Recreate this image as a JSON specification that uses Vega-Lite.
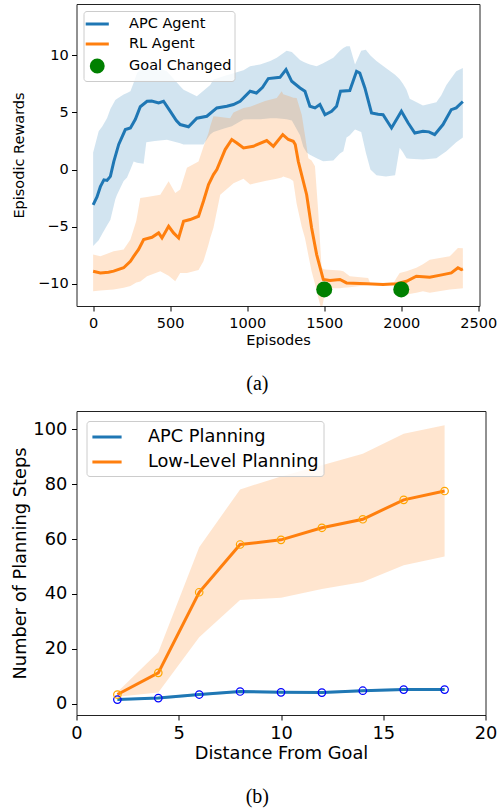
{
  "$schema": "https://vega.github.io/schema/vega-lite/v6.json",
  "padding": {"left": 10.5, "top": 3, "right": 0, "bottom": 0},
  "resolve": {"scale": {"color": "independent"}, "legend": {"color": "independent"}},
  "columns": 1,
  "align": "none",
  "spacing": 16,
  "config": {
    "view": {"stroke": "#222222", "strokeWidth": 1},
    "font": "DejaVu Sans",
    "axis": {
      "grid": false, "domain": false, "tickSize": 5, "tickWidth": 1, "tickColor": "black",
      "labelColor": "black", "titleColor": "black", "labelFont": "DejaVu Sans", "titleFont": "DejaVu Sans",
      "titleFontWeight": "normal", "labelOverlap": false, "labelFlush": false
    }
  },
  "datasets": {
    "linesA": [
      {"series": "APC Agent", "ep": 0, "y": -3.1}, {"series": "APC Agent", "ep": 25, "y": -2.4}, {"series": "APC Agent", "ep": 47, "y": -1.5},
      {"series": "APC Agent", "ep": 70, "y": -0.9}, {"series": "APC Agent", "ep": 90, "y": -0.95}, {"series": "APC Agent", "ep": 112, "y": -0.6},
      {"series": "APC Agent", "ep": 134, "y": 0.7}, {"series": "APC Agent", "ep": 166, "y": 2.2}, {"series": "APC Agent", "ep": 209, "y": 3.5},
      {"series": "APC Agent", "ep": 242, "y": 3.64}, {"series": "APC Agent", "ep": 274, "y": 4.4}, {"series": "APC Agent", "ep": 306, "y": 5.5},
      {"series": "APC Agent", "ep": 350, "y": 5.98}, {"series": "APC Agent", "ep": 380, "y": 6.0}, {"series": "APC Agent", "ep": 425, "y": 5.83},
      {"series": "APC Agent", "ep": 457, "y": 5.98}, {"series": "APC Agent", "ep": 501, "y": 5.1}, {"series": "APC Agent", "ep": 540, "y": 4.3},
      {"series": "APC Agent", "ep": 565, "y": 3.94}, {"series": "APC Agent", "ep": 619, "y": 3.75}, {"series": "APC Agent", "ep": 673, "y": 4.5},
      {"series": "APC Agent", "ep": 738, "y": 4.67}, {"series": "APC Agent", "ep": 803, "y": 5.4}, {"series": "APC Agent", "ep": 868, "y": 5.54},
      {"series": "APC Agent", "ep": 911, "y": 5.7}, {"series": "APC Agent", "ep": 954, "y": 5.98}, {"series": "APC Agent", "ep": 1019, "y": 6.86},
      {"series": "APC Agent", "ep": 1060, "y": 6.7}, {"series": "APC Agent", "ep": 1100, "y": 7.2}, {"series": "APC Agent", "ep": 1137, "y": 7.97},
      {"series": "APC Agent", "ep": 1213, "y": 8.08}, {"series": "APC Agent", "ep": 1252, "y": 8.76}, {"series": "APC Agent", "ep": 1289, "y": 7.73},
      {"series": "APC Agent", "ep": 1343, "y": 7.15}, {"series": "APC Agent", "ep": 1375, "y": 6.86}, {"series": "APC Agent", "ep": 1407, "y": 5.54},
      {"series": "APC Agent", "ep": 1440, "y": 5.4}, {"series": "APC Agent", "ep": 1472, "y": 5.7}, {"series": "APC Agent", "ep": 1505, "y": 4.8},
      {"series": "APC Agent", "ep": 1548, "y": 5.1}, {"series": "APC Agent", "ep": 1580, "y": 5.54}, {"series": "APC Agent", "ep": 1606, "y": 6.86},
      {"series": "APC Agent", "ep": 1666, "y": 6.92}, {"series": "APC Agent", "ep": 1710, "y": 8.6}, {"series": "APC Agent", "ep": 1731, "y": 8.46},
      {"series": "APC Agent", "ep": 1764, "y": 7.15}, {"series": "APC Agent", "ep": 1807, "y": 4.96}, {"series": "APC Agent", "ep": 1850, "y": 4.85},
      {"series": "APC Agent", "ep": 1882, "y": 4.8}, {"series": "APC Agent", "ep": 1937, "y": 3.64}, {"series": "APC Agent", "ep": 2001, "y": 5.1},
      {"series": "APC Agent", "ep": 2044, "y": 4.1}, {"series": "APC Agent", "ep": 2088, "y": 3.2}, {"series": "APC Agent", "ep": 2141, "y": 3.35},
      {"series": "APC Agent", "ep": 2180, "y": 3.3}, {"series": "APC Agent", "ep": 2217, "y": 3.06}, {"series": "APC Agent", "ep": 2271, "y": 3.94},
      {"series": "APC Agent", "ep": 2325, "y": 5.25}, {"series": "APC Agent", "ep": 2357, "y": 5.4}, {"series": "APC Agent", "ep": 2390, "y": 5.83},
      {"series": "APC Agent", "ep": 2400, "y": 5.95},
      {"series": "RL Agent", "ep": 0, "y": -8.9}, {"series": "RL Agent", "ep": 47, "y": -9.05}, {"series": "RL Agent", "ep": 100, "y": -9.0},
      {"series": "RL Agent", "ep": 133, "y": -8.9}, {"series": "RL Agent", "ep": 198, "y": -8.6}, {"series": "RL Agent", "ep": 242, "y": -8.03},
      {"series": "RL Agent", "ep": 263, "y": -7.6}, {"series": "RL Agent", "ep": 295, "y": -7.0}, {"series": "RL Agent", "ep": 328, "y": -6.13},
      {"series": "RL Agent", "ep": 382, "y": -5.93}, {"series": "RL Agent", "ep": 425, "y": -5.55}, {"series": "RL Agent", "ep": 447, "y": -5.99},
      {"series": "RL Agent", "ep": 490, "y": -4.97}, {"series": "RL Agent", "ep": 522, "y": -5.55}, {"series": "RL Agent", "ep": 555, "y": -5.99},
      {"series": "RL Agent", "ep": 587, "y": -4.53}, {"series": "RL Agent", "ep": 630, "y": -4.38}, {"series": "RL Agent", "ep": 684, "y": -4.09},
      {"series": "RL Agent", "ep": 716, "y": -2.78}, {"series": "RL Agent", "ep": 749, "y": -1.31}, {"series": "RL Agent", "ep": 781, "y": -0.44},
      {"series": "RL Agent", "ep": 803, "y": 0.0}, {"series": "RL Agent", "ep": 857, "y": 1.75}, {"series": "RL Agent", "ep": 900, "y": 2.63},
      {"series": "RL Agent", "ep": 933, "y": 2.33}, {"series": "RL Agent", "ep": 976, "y": 1.9}, {"series": "RL Agent", "ep": 1040, "y": 2.04},
      {"series": "RL Agent", "ep": 1127, "y": 2.54}, {"series": "RL Agent", "ep": 1170, "y": 2.04}, {"series": "RL Agent", "ep": 1231, "y": 3.06},
      {"series": "RL Agent", "ep": 1267, "y": 2.63}, {"series": "RL Agent", "ep": 1299, "y": 2.48}, {"series": "RL Agent", "ep": 1312, "y": 2.2},
      {"series": "RL Agent", "ep": 1332, "y": 0.7}, {"series": "RL Agent", "ep": 1386, "y": -2.2}, {"series": "RL Agent", "ep": 1418, "y": -5.1},
      {"series": "RL Agent", "ep": 1451, "y": -7.45}, {"series": "RL Agent", "ep": 1494, "y": -9.63}, {"series": "RL Agent", "ep": 1537, "y": -9.72},
      {"series": "RL Agent", "ep": 1602, "y": -9.63}, {"series": "RL Agent", "ep": 1645, "y": -9.93}, {"series": "RL Agent", "ep": 1775, "y": -10.0},
      {"series": "RL Agent", "ep": 1882, "y": -10.07}, {"series": "RL Agent", "ep": 1969, "y": -10.0}, {"series": "RL Agent", "ep": 2034, "y": -9.78},
      {"series": "RL Agent", "ep": 2098, "y": -9.34}, {"series": "RL Agent", "ep": 2185, "y": -9.43}, {"series": "RL Agent", "ep": 2271, "y": -9.2},
      {"series": "RL Agent", "ep": 2325, "y": -9.05}, {"series": "RL Agent", "ep": 2368, "y": -8.6}, {"series": "RL Agent", "ep": 2390, "y": -8.76},
      {"series": "RL Agent", "ep": 2400, "y": -8.7}
    ],
    "bandAPC": [
      {"ep": 0, "lo": -6.7, "hi": 1.5}, {"ep": 36, "lo": -6.2, "hi": 3.35}, {"ep": 60, "lo": -5.6, "hi": 3.8}, {"ep": 90, "lo": -4.9, "hi": 4.5},
      {"ep": 112, "lo": -4.4, "hi": 5.3}, {"ep": 144, "lo": -2.6, "hi": 6.1}, {"ep": 155, "lo": -2.2, "hi": 6.2}, {"ep": 198, "lo": -1.0, "hi": 6.57},
      {"ep": 220, "lo": -0.7, "hi": 6.7}, {"ep": 242, "lo": 0.0, "hi": 6.86}, {"ep": 263, "lo": 0.7, "hi": 7.6}, {"ep": 285, "lo": 0.6, "hi": 8.46},
      {"ep": 328, "lo": 0.5, "hi": 9.05}, {"ep": 345, "lo": 2.4, "hi": 9.1}, {"ep": 400, "lo": 2.5, "hi": 9.0}, {"ep": 479, "lo": 2.6, "hi": 8.6},
      {"ep": 565, "lo": 2.3, "hi": 7.3}, {"ep": 587, "lo": 2.2, "hi": 7.0}, {"ep": 673, "lo": 2.2, "hi": 6.42}, {"ep": 716, "lo": 2.2, "hi": 6.9},
      {"ep": 760, "lo": 3.06, "hi": 7.4}, {"ep": 781, "lo": 3.3, "hi": 7.88}, {"ep": 850, "lo": 3.6, "hi": 8.2}, {"ep": 900, "lo": 3.8, "hi": 8.4},
      {"ep": 976, "lo": 4.38, "hi": 8.7}, {"ep": 1019, "lo": 4.4, "hi": 9.05}, {"ep": 1084, "lo": 4.4, "hi": 9.2}, {"ep": 1150, "lo": 4.5, "hi": 9.5},
      {"ep": 1192, "lo": 4.5, "hi": 9.8}, {"ep": 1256, "lo": 4.4, "hi": 10.4}, {"ep": 1290, "lo": 4.3, "hi": 10.3}, {"ep": 1343, "lo": 3.0, "hi": 9.6},
      {"ep": 1364, "lo": 2.0, "hi": 9.45}, {"ep": 1386, "lo": 1.5, "hi": 9.3}, {"ep": 1407, "lo": 1.3, "hi": 9.2}, {"ep": 1451, "lo": 1.0, "hi": 9.05},
      {"ep": 1493, "lo": 0.73, "hi": 9.3}, {"ep": 1559, "lo": 0.8, "hi": 9.8}, {"ep": 1602, "lo": 1.4, "hi": 10.4}, {"ep": 1624, "lo": 1.6, "hi": 10.65},
      {"ep": 1645, "lo": 2.8, "hi": 10.8}, {"ep": 1666, "lo": 3.0, "hi": 10.8}, {"ep": 1700, "lo": 3.5, "hi": 9.2}, {"ep": 1740, "lo": 3.3, "hi": 10.4},
      {"ep": 1770, "lo": 1.5, "hi": 10.5}, {"ep": 1800, "lo": 0.0, "hi": 10.0}, {"ep": 1839, "lo": -0.5, "hi": 9.5}, {"ep": 1900, "lo": -0.6, "hi": 8.9},
      {"ep": 1960, "lo": -0.5, "hi": 8.3}, {"ep": 1990, "lo": 1.9, "hi": 7.9}, {"ep": 2012, "lo": 1.5, "hi": 7.5}, {"ep": 2034, "lo": 1.0, "hi": 7.0},
      {"ep": 2055, "lo": 0.95, "hi": 6.2}, {"ep": 2141, "lo": 0.88, "hi": 5.6}, {"ep": 2228, "lo": 1.0, "hi": 5.9}, {"ep": 2260, "lo": 1.3, "hi": 6.5},
      {"ep": 2293, "lo": 1.6, "hi": 7.4}, {"ep": 2357, "lo": 2.4, "hi": 8.6}, {"ep": 2400, "lo": 2.8, "hi": 8.9}
    ],
    "bandRL": [
      {"ep": 0, "lo": -10.65, "hi": -7.45}, {"ep": 47, "lo": -10.6, "hi": -7.6}, {"ep": 133, "lo": -10.5, "hi": -7.15}, {"ep": 198, "lo": -10.35, "hi": -7.0},
      {"ep": 242, "lo": -10.2, "hi": -6.13}, {"ep": 280, "lo": -9.9, "hi": -4.5}, {"ep": 306, "lo": -9.8, "hi": -2.5}, {"ep": 350, "lo": -9.34, "hi": -2.4},
      {"ep": 436, "lo": -8.9, "hi": -2.2}, {"ep": 490, "lo": -9.3, "hi": -1.02}, {"ep": 533, "lo": -9.78, "hi": -2.05}, {"ep": 565, "lo": -9.05, "hi": -1.75},
      {"ep": 609, "lo": -9.05, "hi": 0.15}, {"ep": 684, "lo": -8.8, "hi": 0.7}, {"ep": 716, "lo": -8.03, "hi": 2.0}, {"ep": 749, "lo": -6.57, "hi": 3.2},
      {"ep": 760, "lo": -6.0, "hi": 3.8}, {"ep": 781, "lo": -5.1, "hi": 4.67}, {"ep": 825, "lo": -2.2, "hi": 4.6}, {"ep": 889, "lo": -1.46, "hi": 4.5},
      {"ep": 911, "lo": -1.2, "hi": 5.0}, {"ep": 976, "lo": -0.8, "hi": 5.4}, {"ep": 1019, "lo": -1.3, "hi": 5.5}, {"ep": 1116, "lo": -1.0, "hi": 6.0},
      {"ep": 1192, "lo": -0.8, "hi": 6.27}, {"ep": 1224, "lo": -0.7, "hi": 6.86}, {"ep": 1234, "lo": -0.6, "hi": 6.6}, {"ep": 1278, "lo": -0.8, "hi": 6.4},
      {"ep": 1299, "lo": -1.0, "hi": 6.3}, {"ep": 1321, "lo": -3.0, "hi": 6.27}, {"ep": 1354, "lo": -5.0, "hi": 4.8}, {"ep": 1375, "lo": -6.0, "hi": 3.0},
      {"ep": 1397, "lo": -7.5, "hi": 1.0}, {"ep": 1418, "lo": -8.9, "hi": 0.8}, {"ep": 1440, "lo": -10.0, "hi": 0.3}, {"ep": 1461, "lo": -11.2, "hi": -3.65},
      {"ep": 1483, "lo": -12.3, "hi": -8.6}, {"ep": 1495, "lo": -11.5, "hi": -8.7}, {"ep": 1505, "lo": -10.4, "hi": -8.76}, {"ep": 1602, "lo": -10.4, "hi": -8.85},
      {"ep": 1624, "lo": -10.35, "hi": -8.9}, {"ep": 1666, "lo": -10.3, "hi": -9.34}, {"ep": 1785, "lo": -10.1, "hi": -9.5}, {"ep": 1800, "lo": -10.05, "hi": -10.0},
      {"ep": 1947, "lo": -10.05, "hi": -10.0}, {"ep": 1969, "lo": -10.5, "hi": -9.5}, {"ep": 1990, "lo": -10.7, "hi": -9.05}, {"ep": 2034, "lo": -10.95, "hi": -8.9},
      {"ep": 2098, "lo": -10.8, "hi": -8.6}, {"ep": 2141, "lo": -10.65, "hi": -8.3}, {"ep": 2185, "lo": -10.8, "hi": -7.9}, {"ep": 2315, "lo": -10.5, "hi": -7.6},
      {"ep": 2368, "lo": -10.45, "hi": -6.86}, {"ep": 2400, "lo": -10.4, "hi": -6.9}
    ],
    "goals": [{"ep": 1500, "y": -10.5}, {"ep": 2000, "y": -10.5}],
    "plan": [
      {"series": "APC Planning", "dist": 2, "mean": 1.46, "lo": 1.0, "hi": 1.9},
      {"series": "APC Planning", "dist": 4, "mean": 2.0, "lo": 1.5, "hi": 2.5},
      {"series": "APC Planning", "dist": 6, "mean": 3.3, "lo": 2.8, "hi": 3.8},
      {"series": "APC Planning", "dist": 8, "mean": 4.4, "lo": 3.9, "hi": 4.9},
      {"series": "APC Planning", "dist": 10, "mean": 4.1, "lo": 3.6, "hi": 4.6},
      {"series": "APC Planning", "dist": 12, "mean": 4.0, "lo": 3.5, "hi": 4.5},
      {"series": "APC Planning", "dist": 14, "mean": 4.7, "lo": 4.2, "hi": 5.2},
      {"series": "APC Planning", "dist": 16, "mean": 5.1, "lo": 4.6, "hi": 5.6},
      {"series": "APC Planning", "dist": 18, "mean": 5.1, "lo": 4.6, "hi": 5.6},
      {"series": "Low-Level Planning", "dist": 2, "mean": 3.3, "lo": 2.5, "hi": 4.2},
      {"series": "Low-Level Planning", "dist": 4, "mean": 11.2, "lo": 4.0, "hi": 18.7},
      {"series": "Low-Level Planning", "dist": 6, "mean": 40.6, "lo": 24.2, "hi": 57.0},
      {"series": "Low-Level Planning", "dist": 8, "mean": 58.0, "lo": 37.8, "hi": 78.1},
      {"series": "Low-Level Planning", "dist": 10, "mean": 59.7, "lo": 38.6, "hi": 82.8},
      {"series": "Low-Level Planning", "dist": 12, "mean": 64.1, "lo": 41.8, "hi": 86.9},
      {"series": "Low-Level Planning", "dist": 14, "mean": 67.2, "lo": 44.3, "hi": 91.1},
      {"series": "Low-Level Planning", "dist": 16, "mean": 74.3, "lo": 50.4, "hi": 98.4},
      {"series": "Low-Level Planning", "dist": 18, "mean": 77.5, "lo": 53.6, "hi": 101.5}
    ]
  },
  "concat": [
    {
      "width": 403, "height": 302,
      "title": {"text": "(a)", "orient": "bottom", "font": "Liberation Serif", "fontSize": 20, "fontWeight": "normal", "color": "black", "anchor": "middle", "frame": "bounds", "offset": 27, "dx": 3},
      "encoding": {
        "x": {"field": "ep", "type": "quantitative", "title": "Episodes",
          "scale": {"domain": [-108, 2508], "nice": false, "zero": false},
          "axis": {"values": [0, 500, 1000, 1500, 2000, 2500], "format": "d", "labelFontSize": 14.5, "titleFontSize": 14.5, "labelPadding": 5.5, "titlePadding": 3}}
      },
      "layer": [
        {
          "data": {"name": "bandAPC"},
          "mark": {"type": "area", "color": "#1f77b4", "opacity": 0.2, "clip": true},
          "encoding": {
            "y": {"field": "lo", "type": "quantitative", "title": "Episodic Rewards",
              "scale": {"domain": [-11.95, 14.5], "nice": false, "zero": false},
              "axis": {"values": [-10, -5, 0, 5, 10], "labelFontSize": 14.5, "titleFontSize": 14.5, "labelPadding": 3.3, "titlePadding": 10.6, "labelExpr": "replace(datum.label, '-', '−')"}},
            "y2": {"field": "hi"}
          }
        },
        {
          "data": {"name": "bandRL"},
          "mark": {"type": "area", "color": "#ff7f0e", "opacity": 0.2, "clip": true},
          "encoding": {
            "y": {"field": "lo", "type": "quantitative", "title": "Episodic Rewards", "scale": {"domain": [-11.95, 14.5], "nice": false, "zero": false},
              "axis": {"values": [-10, -5, 0, 5, 10], "labelFontSize": 14.5, "titleFontSize": 14.5, "labelPadding": 3.3, "titlePadding": 10.6, "labelExpr": "replace(datum.label, '-', '−')"}},
            "y2": {"field": "hi"}
          }
        },
        {
          "data": {"name": "linesA"},
          "mark": {"type": "line", "strokeWidth": 3, "clip": true},
          "encoding": {
            "y": {"field": "y", "type": "quantitative", "title": "Episodic Rewards", "scale": {"domain": [-11.95, 14.5], "nice": false, "zero": false},
              "axis": {"values": [-10, -5, 0, 5, 10], "labelFontSize": 14.5, "titleFontSize": 14.5, "labelPadding": 3.3, "titlePadding": 10.6, "labelExpr": "replace(datum.label, '-', '−')"}},
            "color": {"field": "series", "type": "nominal",
              "scale": {"domain": ["APC Agent", "RL Agent", "Goal Changed"], "range": ["#1f77b4", "#ff7f0e", "#008000"]},
              "legend": {
                "title": null, "orient": "top-left", "offset": 6.5, "padding": 3, "rowPadding": 3,
                "symbolSize": 289, "symbolStrokeWidth": 3, "symbolOffset": 0.75, "labelOffset": 21.8,
                "labelFontSize": 14.5, "labelFont": "DejaVu Sans", "labelColor": "black", "labelLimit": 400,
                "strokeColor": "#cccccc", "fillColor": "rgba(255,255,255,0.8)", "cornerRadius": 3,
                "encode": {"symbols": {"update": {
                  "shape": {"signal": "datum.value === 'Goal Changed' ? 'M-0.7,0A0.7,0.7,0,1,1,0.7,0A0.7,0.7,0,1,1,-0.7,0Z' : 'M-1.36,0H1.36'"},
                  "fill": {"signal": "datum.value === 'Goal Changed' ? '#008000' : 'transparent'"},
                  "stroke": {"signal": "datum.value === 'APC Agent' ? '#1f77b4' : datum.value === 'RL Agent' ? '#ff7f0e' : '#008000'"},
                  "opacity": {"value": 1}
                }}}
              }}
          }
        },
        {
          "data": {"name": "goals"},
          "mark": {"type": "point", "filled": true, "shape": "circle", "size": 256, "color": "#008000", "opacity": 1, "strokeWidth": 0},
          "encoding": {
            "y": {"field": "y", "type": "quantitative", "title": "Episodic Rewards", "scale": {"domain": [-11.95, 14.5], "nice": false, "zero": false},
              "axis": {"values": [-10, -5, 0, 5, 10], "labelFontSize": 14.5, "titleFontSize": 14.5, "labelPadding": 3.3, "titlePadding": 10.6, "labelExpr": "replace(datum.label, '-', '−')"}}
          }
        }
      ]
    },
    {
      "width": 409, "height": 304,
      "data": {"name": "plan"},
      "title": {"text": "(b)", "orient": "bottom", "font": "Liberation Serif", "fontSize": 20, "fontWeight": "normal", "color": "black", "anchor": "middle", "frame": "bounds", "offset": 25, "dx": 3},
      "encoding": {
        "x": {"field": "dist", "type": "quantitative", "title": "Distance From Goal",
          "scale": {"domain": [0, 20], "nice": false, "zero": false},
          "axis": {"values": [0, 5, 10, 15, 20], "labelFontSize": 17.8, "titleFontSize": 17.8, "labelPadding": 4.8, "titlePadding": 2}}
      },
      "layer": [
        {
          "transform": [{"filter": "datum.series === 'APC Planning'"}],
          "mark": {"type": "area", "color": "#1f77b4", "opacity": 0.2},
          "encoding": {
            "y": {"field": "lo", "type": "quantitative", "title": "Number of Planning Steps",
              "scale": {"domain": [-4.16, 106.68], "nice": false, "zero": false},
              "axis": {"values": [0, 20, 40, 60, 80, 100], "labelFontSize": 17.8, "titleFontSize": 17.8, "labelPadding": 4.7, "titlePadding": 3}},
            "y2": {"field": "hi"}
          }
        },
        {
          "transform": [{"filter": "datum.series === 'Low-Level Planning'"}],
          "mark": {"type": "area", "color": "#ff7f0e", "opacity": 0.2},
          "encoding": {
            "y": {"field": "lo", "type": "quantitative", "title": "Number of Planning Steps", "scale": {"domain": [-4.16, 106.68], "nice": false, "zero": false},
              "axis": {"values": [0, 20, 40, 60, 80, 100], "labelFontSize": 17.8, "titleFontSize": 17.8, "labelPadding": 4.7, "titlePadding": 3}},
            "y2": {"field": "hi"}
          }
        },
        {
          "mark": {"type": "line", "strokeWidth": 3},
          "encoding": {
            "y": {"field": "mean", "type": "quantitative", "title": "Number of Planning Steps", "scale": {"domain": [-4.16, 106.68], "nice": false, "zero": false},
              "axis": {"values": [0, 20, 40, 60, 80, 100], "labelFontSize": 17.8, "titleFontSize": 17.8, "labelPadding": 4.7, "titlePadding": 3}},
            "color": {"field": "series", "type": "nominal",
              "scale": {"domain": ["APC Planning", "Low-Level Planning"], "range": ["#1f77b4", "#ff7f0e"]},
              "legend": {
                "title": null, "orient": "top-left", "offset": 10, "padding": 4.5, "rowPadding": 4,
                "symbolSize": 400, "symbolStrokeWidth": 3, "symbolOffset": 4.5, "labelOffset": 29.4,
                "symbolType": "M-1.46,0H1.46",
                "labelFontSize": 17.8, "labelFont": "DejaVu Sans", "labelColor": "black", "labelLimit": 400,
                "strokeColor": "#cccccc", "fillColor": "rgba(255,255,255,0.8)", "cornerRadius": 3
              }}
          }
        },
        {
          "transform": [{"filter": "datum.series === 'APC Planning'"}],
          "mark": {"type": "point", "filled": false, "shape": "circle", "size": 56, "strokeWidth": 1.2, "color": "#0000ff", "opacity": 1},
          "encoding": {
            "y": {"field": "mean", "type": "quantitative", "title": "Number of Planning Steps", "scale": {"domain": [-4.16, 106.68], "nice": false, "zero": false},
              "axis": {"values": [0, 20, 40, 60, 80, 100], "labelFontSize": 17.8, "titleFontSize": 17.8, "labelPadding": 4.7, "titlePadding": 3}}
          }
        },
        {
          "transform": [{"filter": "datum.series === 'Low-Level Planning'"}],
          "mark": {"type": "point", "filled": false, "shape": "circle", "size": 56, "strokeWidth": 1.2, "color": "#ffa500", "opacity": 1},
          "encoding": {
            "y": {"field": "mean", "type": "quantitative", "title": "Number of Planning Steps", "scale": {"domain": [-4.16, 106.68], "nice": false, "zero": false},
              "axis": {"values": [0, 20, 40, 60, 80, 100], "labelFontSize": 17.8, "titleFontSize": 17.8, "labelPadding": 4.7, "titlePadding": 3}}
          }
        }
      ]
    }
  ]
}
